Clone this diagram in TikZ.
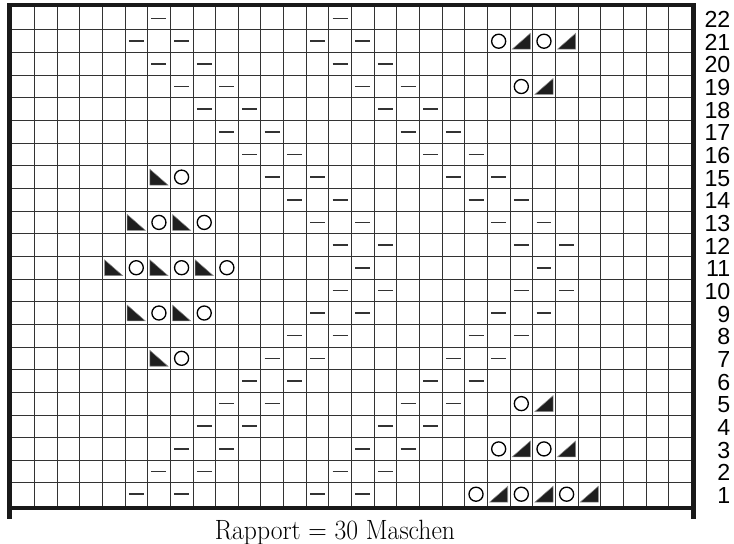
\documentclass[tikz,border=0pt]{standalone}
\usepackage{fontspec}
\newfontfamily\numfont{Liberation Sans}
\usepackage{tikz}
\usetikzlibrary{positioning}

\begin{document}
\begin{tikzpicture}[x=0.6cm,y=0.6cm,
  gridline/.style={black!80,line width=0.6pt},
  rim/.style={black!90,line width=3.3pt},
  purl/.style={black!80,line width=1.2pt},
  yarnover/.style={black,line width=1pt},
  knittog/.style={fill=black!88,draw=black!45,line width=0.4pt},
  rownum/.style={anchor=east,inner sep=0pt,font=\numfont\fontsize{17.5}{17.5}\selectfont}]
\useasboundingbox (-0.517,-1.695) rectangle (31.89,22.32);
\foreach \i in {1,...,29} \draw[gridline] (\i,0) -- (\i,22);
\foreach \j in {1,...,21} \draw[gridline] (0,\j) -- (30,\j);
\draw[rim] (-0.097,-0.59) -- (-0.097,22.097) -- (30.097,22.097) -- (30.097,-0.59);
\draw[rim] (-0.097,-0.097) -- (30.097,-0.097);
% purl stitches
\foreach \r/\cols in {22/{7,15},21/{6,8,14,16},20/{7,9,15,17},19/{8,10,16,18},
    18/{9,11,17,19},17/{10,12,18,20},16/{11,13,19,21},15/{12,14,20,22},
    14/{13,15,21,23},13/{14,16,22,24},12/{15,17,23,25},11/{16,24},
    10/{15,17,23,25},9/{14,16,22,24},8/{13,15,21,23},7/{12,14,20,22},
    6/{11,13,19,21},5/{10,12,18,20},4/{9,11,17,19},3/{8,10,16,18},
    2/{7,9,15,17},1/{6,8,14,16}}
  \foreach \c in \cols \draw[purl] (\c-0.83,\r-0.5) -- (\c-0.17,\r-0.5);
% yarn overs
\foreach \c/\r in {22/21,24/21,23/19,23/5,22/3,24/3,21/1,23/1,25/1,
    8/15,7/13,9/13,6/11,8/11,10/11,7/9,9/9,8/7}
  \draw[yarnover] (\c-0.5,\r-0.5) circle[radius=0.31];
% decreases
\foreach \c/\r in {23/21,25/21,24/19,24/5,23/3,25/3,22/1,24/1,26/1}
  \filldraw[knittog] (\c-0.9,\r-0.85) -- (\c-0.1,\r-0.85) -- (\c-0.1,\r-0.15) -- cycle;
\foreach \c/\r in {7/15,6/13,8/13,5/11,7/11,9/11,6/9,8/9,7/7}
  \filldraw[knittog] (\c-0.9,\r-0.15) -- (\c-0.9,\r-0.85) -- (\c-0.1,\r-0.85) -- cycle;
\foreach \r in {1,...,22} \node[rownum] (n\r) at (31.74,\r-0.55) {\r};
\node[anchor=base,font=\fontsize{21}{21}\selectfont] (rapport) at (14.27,-1.49)
  {\scalebox{0.92}[1]{Rapport = 30 Maschen}};
\end{tikzpicture}
\end{document}
